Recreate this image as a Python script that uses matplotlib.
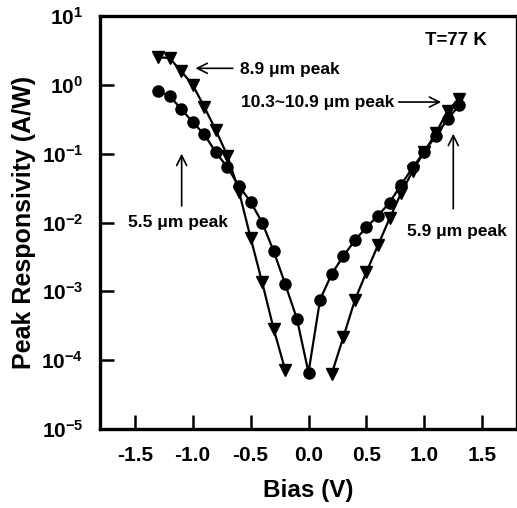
import numpy as np
import matplotlib
matplotlib.use("Agg")
import matplotlib.pyplot as plt
from matplotlib.ticker import FixedLocator, FuncFormatter, NullLocator

plt.rcParams['font.family'] = ['Liberation Sans', 'DejaVu Sans']
plt.rcParams['font.weight'] = 'bold'
plt.rcParams['mathtext.fontset'] = 'custom'
plt.rcParams['mathtext.rm'] = 'Liberation Sans:bold'
plt.rcParams['mathtext.bf'] = 'Liberation Sans:bold'
plt.rcParams['mathtext.it'] = 'Liberation Sans:bold'
plt.rcParams['axes.unicode_minus'] = False

# Circles: 5.5 um (negative bias) / 5.9 um (positive bias) peaks
bias_circ = [-1.3, -1.2, -1.1, -1.0, -0.9, -0.8, -0.7, -0.6, -0.5, -0.4, -0.3, -0.2, -0.1, 0.0,
             0.1, 0.2, 0.3, 0.4, 0.5, 0.6, 0.7, 0.8, 0.9, 1.0, 1.1, 1.2, 1.3]
log_resp_circ = [-0.09, -0.16, -0.35, -0.54, -0.72, -0.98, -1.20, -1.47, -1.70, -2.00, -2.42, -2.90, -3.40, -4.18,
                 -3.12, -2.75, -2.49, -2.26, -2.07, -1.90, -1.71, -1.45, -1.20, -0.97, -0.74, -0.50, -0.30]

# Triangles: 8.9 um (negative bias) / 10.3~10.9 um (positive bias) peaks
bias_tri_neg = [-1.3, -1.2, -1.1, -1.0, -0.9, -0.8, -0.7, -0.6, -0.5, -0.4, -0.3, -0.2]
log_resp_tri_neg = [0.40, 0.39, 0.20, 0.0, -0.32, -0.66, -1.03, -1.55, -2.22, -2.87, -3.55, -4.15]
bias_tri_pos = [0.2, 0.3, 0.4, 0.5, 0.6, 0.7, 0.8, 0.9, 1.0, 1.1, 1.2, 1.3]
log_resp_tri_pos = [-4.20, -3.67, -3.13, -2.72, -2.33, -1.94, -1.57, -1.25, -0.97, -0.70, -0.38, -0.20]

xticks = [-1.5, -1.0, -0.5, 0.0, 0.5, 1.0, 1.5]
xticklabels = ['-1.5', '-1.0', '-0.5', '0.0', '0.5', '1.0', '1.5']
yexps = [-5, -4, -3, -2, -1, 0, 1]

W, H = 517, 508
fig = plt.figure(figsize=(W / 100, H / 100), dpi=100)
ax = fig.add_axes([100 / W, (H - 429) / H, 417 / W, 413 / H])

ax.plot(bias_circ, 10.0 ** np.array(log_resp_circ), '-', color='black', lw=1.6,
        marker='o', ms=8, mfc='black', mec='black')
ax.plot(bias_tri_neg, 10.0 ** np.array(log_resp_tri_neg), '-', color='black', lw=1.6,
        marker='v', ms=8, mfc='black', mec='black')
ax.plot(bias_tri_pos, 10.0 ** np.array(log_resp_tri_pos), '-', color='black', lw=1.6,
        marker='v', ms=8, mfc='black', mec='black')

ax.set_yscale('log')
ax.set_xlim(-1.8, 1.8)
ax.set_ylim(1e-5, 1e1)
ax.yaxis.set_major_locator(FixedLocator([10.0 ** e for e in yexps]))
ax.yaxis.set_minor_locator(NullLocator())
ax.yaxis.set_major_formatter(FuncFormatter(lambda v, p: r'$\mathbf{10^{%d}}$' % int(round(np.log10(v)))))
ax.set_xticks(xticks)
ax.set_xticklabels(xticklabels)

for s in ['left', 'bottom', 'top', 'right']:
    ax.spines[s].set_linewidth(2.4)
ax.tick_params(axis='both', direction='in', length=10, width=1.8)
ax.tick_params(axis='x', pad=12, labelsize=15)
ax.tick_params(axis='y', pad=12, labelsize=15)

ax.set_xlabel('Bias (V)', fontsize=17.5, fontweight='bold', labelpad=10)
ax.set_ylabel('Peak Responsivity (A/W)', fontsize=18, fontweight='bold', labelpad=4)

tfs = 12.5
ax.text(1.27, 10 ** 0.64, 'T=77 K', fontsize=13.5, fontweight='bold', ha='center', va='center')

arrow = dict(arrowstyle='->', color='black', lw=1.2, mutation_scale=18)
# 8.9 um peak
ax.text(-0.595, 10 ** 0.23, '8.9 \u03bcm peak', fontsize=tfs, fontweight='bold', ha='left', va='center')
ax.annotate('', xy=(-1.0, 10 ** 0.24), xytext=(-0.63, 10 ** 0.24), arrowprops=arrow)
# 10.3~10.9 um peak
ax.text(0.74, 10 ** -0.25, '10.3~10.9 \u03bcm peak', fontsize=tfs, fontweight='bold', ha='right', va='center')
ax.annotate('', xy=(1.17, 10 ** -0.25), xytext=(0.755, 10 ** -0.25), arrowprops=arrow)
# 5.5 um peak
ax.text(-1.13, 10 ** -2.0, '5.5 \u03bcm peak', fontsize=tfs, fontweight='bold', ha='center', va='center')
ax.annotate('', xy=(-1.095, 10 ** -0.96), xytext=(-1.095, 10 ** -1.80), arrowprops=arrow)
# 5.9 um peak
ax.text(1.28, 10 ** -2.13, '5.9 \u03bcm peak', fontsize=tfs, fontweight='bold', ha='center', va='center')
ax.annotate('', xy=(1.25, 10 ** -0.67), xytext=(1.25, 10 ** -1.84), arrowprops=arrow)

fig.savefig('out.png', dpi=100)
